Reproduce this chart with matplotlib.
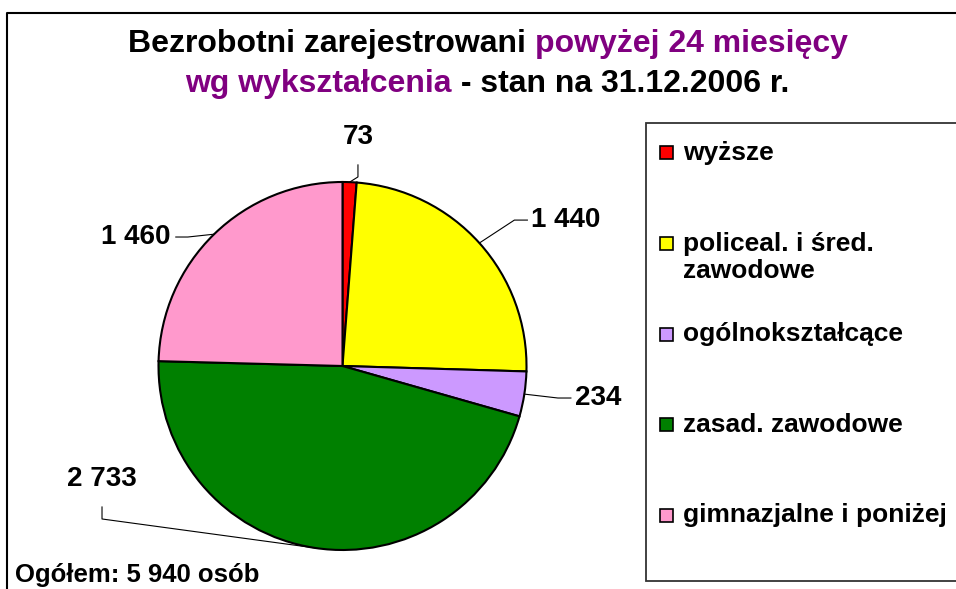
import numpy as np
import matplotlib
matplotlib.use("Agg")
import matplotlib.pyplot as plt
from matplotlib.patches import Rectangle
from matplotlib.lines import Line2D

# ---------------- data ----------------
categories = ["wyższe", "policeal. i śred.\nzawodowe", "ogólnokształcące",
              "zasad. zawodowe", "gimnazjalne i poniżej"]
values = [73, 1440, 234, 2733, 1460]
value_labels = ["73", "1 440", "234", "2 733", "1 460"]
colors = ["#FF0000", "#FFFF00", "#CC99FF", "#008000", "#FF99CC"]
title_line1 = [("Bezrobotni zarejestrowani ", "black"), ("powyżej 24 miesięcy", "#800080")]
title_line2 = [("wg wykształcenia", "#800080"), (" - stan na 31.12.2006 r.", "black")]
total_text = "Ogółem: 5 940 osób"

# ---------------- layout ----------------
W, H = 956, 589
FONT = "Liberation Sans"
# label centres in pie-data units (radius = 1) and where the leader line leaves the label
label_pos = [(0.084, 1.245), (1.215, 0.793), (1.389, -0.174), (-1.307, -0.614), (-1.122, 0.701)]
label_side = ["below", "left", "left", "below", "right"]

fig = plt.figure(figsize=(W / 100, H / 100), dpi=100)
fig.patch.set_facecolor("white")


def fx(x):
    return x / W


def fy(y):
    return 1 - y / H


# pie axes: centre (342.5, 366) px, radius 184 px
cx, cy, R = 342.5, 366.0, 184.0
ax = fig.add_axes([fx(cx - R), fy(cy + R), 2 * R / W, 2 * R / H])
wedges, _ = ax.pie(values, colors=colors, startangle=90, counterclock=False, radius=1,
                   wedgeprops=dict(edgecolor="black", linewidth=1.5))
ax.set_xlim(-1, 1)
ax.set_ylim(-1, 1)
ax.set_aspect("equal")
ax.axis("off")

renderer = fig.canvas.get_renderer()

# value labels with leader lines
for w, lab, pos, side in zip(wedges, value_labels, label_pos, label_side):
    t = ax.text(pos[0], pos[1], lab, ha="center", va="center", fontsize=20,
                fontweight="bold", family=FONT, color="black")
    bb = t.get_window_extent(renderer)
    ang = np.deg2rad((w.theta1 + w.theta2) / 2)
    ex, ey = ax.transData.transform((np.cos(ang), np.sin(ang)))
    if side == "below":
        sx, sy = (bb.x0 + bb.x1) / 2, bb.y0 - 15
        kx, ky = sx, sy - 12
    elif side == "left":
        sx, sy = bb.x0 - 4, (bb.y0 + bb.y1) / 2
        kx, ky = sx - 13, sy
    else:
        sx, sy = bb.x1 + 5, (bb.y0 + bb.y1) / 2
        kx, ky = sx + 12, sy
    pts = np.array([[sx, sy], [kx, ky], [ex, ey]])
    pts = fig.transFigure.inverted().transform(pts)
    fig.add_artist(Line2D(pts[:, 0], pts[:, 1], color="black", lw=0.8,
                          transform=fig.transFigure))

# title with coloured pieces
def advance(s, size):
    t1 = fig.text(0, 0, "X" + s + "X", fontsize=size, fontweight="bold", family=FONT)
    t2 = fig.text(0, 0, "XX", fontsize=size, fontweight="bold", family=FONT)
    w = t1.get_window_extent(renderer).width - t2.get_window_extent(renderer).width
    t1.remove()
    t2.remove()
    return w


def draw_line(pieces, xc, baseline, size):
    widths = [advance(s, size) for s, _ in pieces]
    x = xc - sum(widths) / 2
    for (s, c), wd in zip(pieces, widths):
        fig.text(fx(x), fy(baseline), s, fontsize=size, fontweight="bold", family=FONT,
                 color=c, ha="left", va="baseline")
        x += wd


draw_line(title_line1, 488, 52, 23)
draw_line(title_line2, 487, 92, 23)

# total
fig.text(fx(15), fy(582), total_text, fontsize=18.5, fontweight="bold", family=FONT,
         ha="left", va="baseline")

# legend box (extends beyond right edge)
fig.add_artist(Rectangle((fx(646), fy(580.5)), fx(1000) - fx(646), fy(123) - fy(580.5),
                         transform=fig.transFigure, facecolor="white",
                         edgecolor="#333333", lw=1.3))
rows = np.linspace(153, 515, len(categories))
for cat, col, ry in zip(categories, colors, rows):
    fig.add_artist(Rectangle((fx(660), fy(ry + 6.5)), 13 / W, 13 / H,
                             transform=fig.transFigure, facecolor=col,
                             edgecolor="black", lw=1.2))
    for k, line in enumerate(cat.split("\n")):
        fig.text(fx(683), fy(ry + 28 * k), line, fontsize=19, fontweight="bold",
                 family=FONT, ha="left", va="center")

# outer border (top and left)
fig.add_artist(Line2D([fx(7), fx(7), fx(960)], [fy(600), fy(12.5), fy(12.5)],
                      color="black", lw=1.5, transform=fig.transFigure))

fig.savefig("out.png", dpi=100, facecolor="white")
